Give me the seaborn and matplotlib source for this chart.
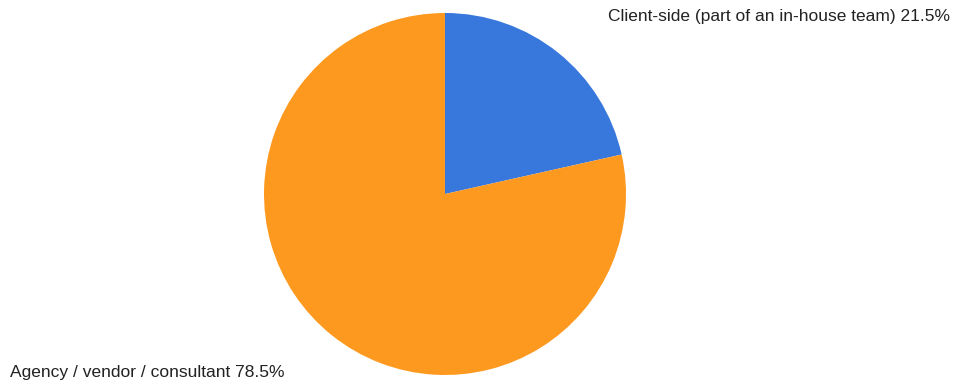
import matplotlib
matplotlib.use("Agg")
import matplotlib.pyplot as plt
import seaborn as sns

# Respondent work setting
categories = ["Client-side (part of an in-house team)", "Agency / vendor / consultant"]
shares = [21.5, 78.5]
colors = ["#3877DB", "#FE9920"]

sns.set_theme(style="white")
plt.rcParams["font.family"] = ["Liberation Sans", "DejaVu Sans"]

fig = plt.figure(figsize=(9.55, 3.85), dpi=100)
fig.patch.set_facecolor("white")

W, H = 955, 385
cx, cy, r = 445, 194, 181
ax = fig.add_axes([(cx - r) / W, (H - cy - r) / H, 2 * r / W, 2 * r / H])
ax.pie(shares, colors=colors, startangle=90, counterclock=False,
       wedgeprops=dict(linewidth=0, antialiased=True))
ax.set_xlim(-1, 1)
ax.set_ylim(-1, 1)
ax.set_aspect("equal")
ax.axis("off")

labels = [f"{c} {v}%" for c, v in zip(categories, shares)]
fig.text(950 / W, 1 - 16.5 / H, labels[0], ha="right", va="center",
         fontsize=12.5, color="#222222")
fig.text(10 / W, 1 - 372.5 / H, labels[1], ha="left", va="center",
         fontsize=12.5, color="#222222")

fig.savefig("out.png", dpi=100, facecolor="white")
